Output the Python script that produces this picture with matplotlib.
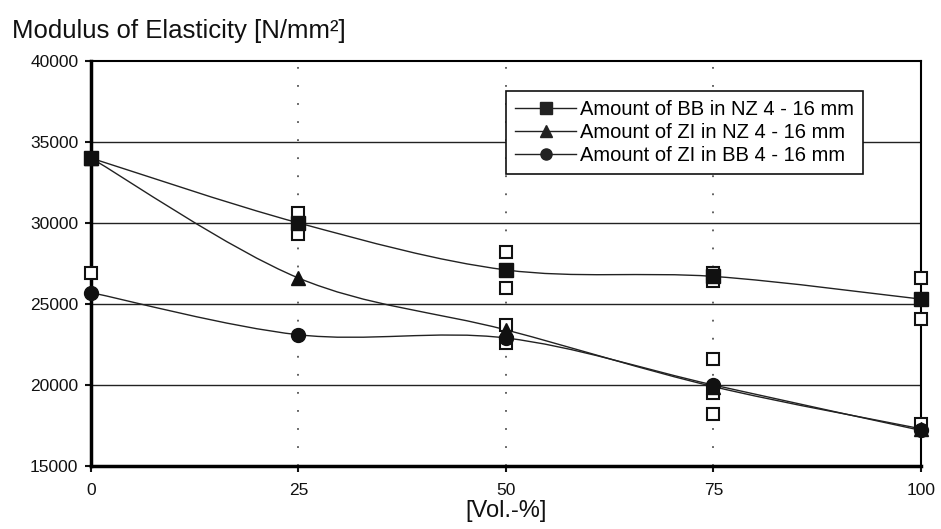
import numpy as np
import matplotlib
matplotlib.use("Agg")
from matplotlib import pyplot as plt
from matplotlib.path import Path
from matplotlib.patches import PathPatch

plt.rcParams['font.family'] = ['Liberation Sans', 'DejaVu Sans']

# Mean values
vol = [0, 25, 50, 75, 100]
bb_in_nz = [34000, 30000, 27100, 26700, 25300]
zi_in_nz = [34000, 26600, 23400, 19900, 17300]
zi_in_bb = [25700, 23100, 22900, 20000, 17200]

# Individual measurements (open squares)
single_x = [0, 25, 25, 50, 50, 50, 50, 75, 75, 75, 75, 75, 100, 100, 100]
single_y = [26900, 30600, 29300, 28200, 26000, 23700, 22600,
            26900, 26400, 21600, 19500, 18200, 26600, 24100, 17600]

labels = ["Amount of BB in NZ 4 - 16 mm",
          "Amount of ZI in NZ 4 - 16 mm",
          "Amount of ZI in BB 4 - 16 mm"]
markers = ["s", "^", "o"]


# smoothed line through the points (like a spreadsheet "smoothed line")
def smooth_path(xs, ys):
    pts = np.column_stack([xs, ys]).astype(float)
    n = len(pts)
    verts = [pts[0]]
    codes = [Path.MOVETO]
    for i in range(n - 1):
        p0 = pts[i - 1] if i > 0 else pts[i]
        p1 = pts[i]
        p2 = pts[i + 1]
        p3 = pts[i + 2] if i + 2 < n else pts[i + 1]
        c1 = p1 + (p2 - p0) / 6.0
        c2 = p2 - (p3 - p1) / 6.0
        verts += [c1, c2, p2]
        codes += [Path.CURVE4] * 3
    return Path(verts, codes)


fig = plt.figure(figsize=(9.41, 5.29), dpi=100)
ax = fig.add_axes([0.0967, 0.119, 0.882, 0.766])

ax.set_xlim(0, 100)
ax.set_ylim(15000, 40000)

# grid
for yv in [20000, 25000, 30000, 35000]:
    ax.axhline(yv, color="#222222", lw=1.0, zorder=1)
for xv in [25, 50, 75]:
    ax.axvline(xv, color="#555555", lw=1.3, ls=(0, (1, 9)), zorder=1)

ax.plot(single_x, single_y, ls="none", marker="s", ms=8.5, mfc="white",
        mec="#111111", mew=1.5, zorder=3, clip_on=False)

for ys, mk, lab in zip([bb_in_nz, zi_in_nz, zi_in_bb], markers, labels):
    ax.add_patch(PathPatch(smooth_path(vol, ys), fill=False, ec="#222222",
                           lw=1.0, zorder=2))
    ax.plot(vol, ys, ls="none", marker=mk, ms=10, color="#111111", zorder=4,
            clip_on=False)
    # legend proxy
    ax.plot([], [], color="#222222", lw=1.0, marker=mk, ms=8, label=lab)

ax.set_xticks(vol)
ax.set_yticks([15000, 20000, 25000, 30000, 35000, 40000])
ax.tick_params(direction="out", length=4, width=1.5, labelsize=12.5,
               colors="#111111")
ax.tick_params(axis="x", pad=8)
ax.tick_params(axis="y", pad=5)

ax.spines["left"].set_linewidth(2.5)
ax.spines["bottom"].set_linewidth(2.5)
ax.spines["top"].set_linewidth(1.5)
ax.spines["right"].set_linewidth(1.5)

ax.set_xlabel("[Vol.-%]", fontsize=17, color="#111111")
ax.xaxis.set_label_coords(0.5, -0.085)
fig.text(0.013, 0.928, "Modulus of Elasticity [N/mm²]", fontsize=18.5,
         color="#111111")

leg = ax.legend(loc="upper right", bbox_to_anchor=(0.93, 0.925),
                fontsize=14.5, frameon=True, fancybox=False, framealpha=1,
                edgecolor="#111111", borderpad=0.45, labelspacing=0.2,
                handlelength=3.0, handletextpad=0.2, borderaxespad=0)
leg.get_frame().set_linewidth(1.2)

fig.savefig("out.png", dpi=100)
